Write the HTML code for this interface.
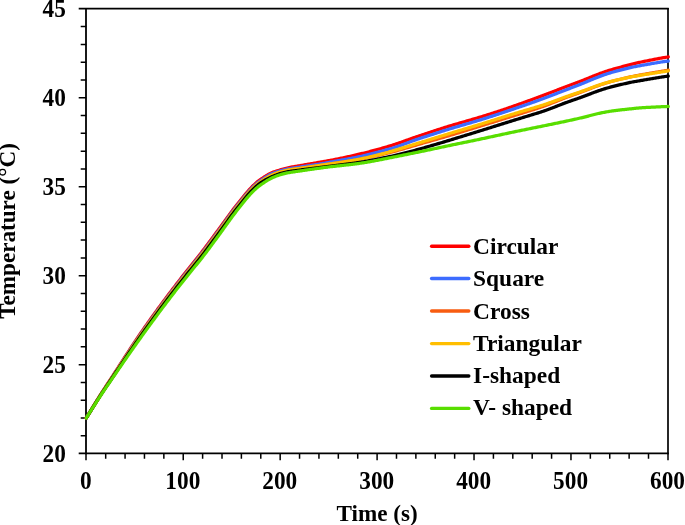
<!DOCTYPE html>
<html><head><meta charset="utf-8"><title>Temperature vs Time</title>
<style>
html,body{margin:0;padding:0;background:#fff;}
body{width:685px;height:525px;overflow:hidden;font-family:"Liberation Serif",serif;}
</style></head><body>
<svg width="685" height="525" viewBox="0 0 685 525" style="display:block;will-change:transform">
<rect x="0" y="0" width="685" height="525" fill="#fff"/>
<g stroke="#000" stroke-width="1.5" fill="none" stroke-linecap="butt">
<path d="M78.7,8.65H668.75" stroke-width="1.55"/>
<path d="M78.7,453.3H668.75" stroke-width="1.8"/>
<path d="M86.0,7.9V454.2" stroke-width="1.8"/>
<path d="M668.0,7.9V454.2" stroke-width="1.7"/>
<path d="M80.7,435.81H86.3 M80.7,418.02H86.3 M80.7,400.22H86.3 M80.7,382.43H86.3 M78.7,364.64H86.3 M80.7,346.85H86.3 M80.7,329.06H86.3 M80.7,311.26H86.3 M80.7,293.47H86.3 M78.7,275.68H86.3 M80.7,257.89H86.3 M80.7,240.10H86.3 M80.7,222.30H86.3 M80.7,204.51H86.3 M78.7,186.72H86.3 M80.7,168.93H86.3 M80.7,151.14H86.3 M80.7,133.34H86.3 M80.7,115.55H86.3 M78.7,97.76H86.3 M80.7,79.97H86.3 M80.7,62.18H86.3 M80.7,44.38H86.3 M80.7,26.59H86.3 M86.00,453.6V460.2 M105.69,453.6V458.8 M125.07,453.6V458.8 M144.46,453.6V458.8 M163.85,453.6V458.8 M183.23,453.6V460.2 M202.62,453.6V458.8 M222.01,453.6V458.8 M241.39,453.6V458.8 M260.78,453.6V458.8 M280.17,453.6V460.2 M299.55,453.6V458.8 M318.94,453.6V458.8 M338.33,453.6V458.8 M357.71,453.6V458.8 M377.10,453.6V460.2 M396.49,453.6V458.8 M415.87,453.6V458.8 M435.26,453.6V458.8 M454.65,453.6V458.8 M474.03,453.6V460.2 M493.42,453.6V458.8 M512.81,453.6V458.8 M532.19,453.6V458.8 M551.58,453.6V458.8 M570.97,453.6V460.2 M590.35,453.6V458.8 M609.74,453.6V458.8 M629.13,453.6V458.8 M648.51,453.6V458.8 M668.00,453.6V460.2"/>
</g>
<g fill="none" stroke-width="3.25" stroke-linejoin="round" stroke-linecap="round">
<path stroke="#ff0000" d="M86.3,418.00 L87.3,416.34 L88.3,414.68 L89.3,413.03 L90.3,411.38 L91.3,409.73 L92.3,408.09 L93.3,406.45 L94.3,404.81 L95.3,403.18 L96.3,401.56 L97.3,399.94 L98.3,398.32 L99.3,396.70 L100.3,395.09 L101.3,393.50 L102.3,391.92 L103.3,390.36 L104.3,388.81 L105.3,387.28 L106.3,385.76 L107.3,384.25 L108.3,382.73 L109.3,381.21 L110.3,379.69 L111.3,378.15 L112.3,376.60 L113.3,375.05 L114.3,373.50 L115.3,371.94 L116.3,370.39 L117.3,368.84 L118.3,367.28 L119.3,365.73 L120.3,364.18 L121.3,362.63 L122.3,361.08 L123.3,359.53 L124.3,357.98 L125.3,356.43 L126.3,354.89 L127.3,353.34 L128.3,351.80 L129.3,350.26 L130.3,348.73 L131.3,347.20 L132.3,345.68 L133.3,344.16 L134.3,342.64 L135.3,341.14 L136.3,339.64 L137.3,338.15 L138.3,336.66 L139.3,335.18 L140.3,333.72 L141.3,332.26 L142.3,330.81 L143.3,329.36 L144.3,327.93 L145.3,326.51 L146.3,325.09 L147.3,323.67 L148.3,322.25 L149.3,320.84 L150.3,319.44 L151.3,318.03 L152.3,316.63 L153.3,315.24 L154.3,313.85 L155.3,312.46 L156.3,311.08 L157.3,309.70 L158.3,308.33 L159.3,306.96 L160.3,305.60 L161.3,304.25 L162.3,302.89 L163.3,301.54 L164.3,300.20 L165.3,298.85 L166.3,297.51 L167.3,296.18 L168.3,294.85 L169.3,293.52 L170.3,292.19 L171.3,290.87 L172.3,289.55 L173.3,288.24 L174.3,286.93 L175.3,285.62 L176.3,284.31 L177.3,283.01 L178.3,281.72 L179.3,280.43 L180.3,279.14 L181.3,277.85 L182.3,276.57 L183.3,275.29 L184.3,274.01 L185.3,272.74 L186.3,271.47 L187.3,270.21 L188.3,268.95 L189.3,267.69 L190.3,266.43 L191.3,265.18 L192.3,263.93 L193.3,262.68 L194.3,261.43 L195.3,260.18 L196.3,258.93 L197.3,257.68 L198.3,256.43 L199.3,255.18 L200.3,253.91 L201.3,252.64 L202.3,251.36 L203.3,250.07 L204.3,248.76 L205.3,247.43 L206.3,246.10 L207.3,244.76 L208.3,243.41 L209.3,242.06 L210.3,240.70 L211.3,239.35 L212.3,238.00 L213.3,236.64 L214.3,235.29 L215.3,233.94 L216.3,232.59 L217.3,231.24 L218.3,229.88 L219.3,228.51 L220.3,227.14 L221.3,225.76 L222.3,224.39 L223.3,223.01 L224.3,221.63 L225.3,220.25 L226.3,218.87 L227.3,217.48 L228.3,216.10 L229.3,214.72 L230.3,213.36 L231.3,212.01 L232.3,210.67 L233.3,209.35 L234.3,208.05 L235.3,206.77 L236.3,205.50 L237.3,204.25 L238.3,203.00 L239.3,201.76 L240.3,200.53 L241.3,199.29 L242.3,198.05 L243.3,196.80 L244.3,195.56 L245.3,194.33 L246.3,193.12 L247.3,191.94 L248.3,190.79 L249.3,189.67 L250.3,188.59 L251.3,187.53 L252.3,186.51 L253.3,185.51 L254.3,184.55 L255.3,183.61 L256.3,182.71 L257.3,181.86 L258.3,181.05 L259.3,180.30 L260.3,179.59 L261.3,178.91 L262.3,178.24 L263.3,177.59 L264.3,176.93 L265.3,176.29 L266.3,175.66 L267.3,175.06 L268.3,174.48 L269.3,173.92 L270.3,173.40 L271.3,172.92 L272.3,172.50 L273.3,172.12 L274.3,171.76 L275.3,171.44 L276.3,171.12 L277.3,170.82 L278.3,170.52 L279.3,170.22 L280.3,169.90 L281.3,169.59 L282.3,169.30 L283.3,169.01 L284.3,168.73 L285.3,168.46 L286.3,168.21 L287.3,167.97 L288.3,167.75 L289.3,167.54 L290.3,167.35 L291.3,167.16 L292.3,166.97 L293.3,166.80 L294.3,166.62 L295.3,166.45 L296.3,166.27 L297.3,166.10 L298.3,165.93 L299.3,165.75 L300.3,165.58 L301.3,165.41 L302.3,165.24 L303.3,165.06 L304.3,164.89 L305.3,164.72 L306.3,164.55 L307.3,164.38 L308.3,164.20 L309.3,164.03 L310.3,163.86 L311.3,163.69 L312.3,163.51 L313.3,163.34 L314.3,163.17 L315.3,162.99 L316.3,162.82 L317.3,162.65 L318.3,162.47 L319.3,162.30 L320.3,162.12 L321.3,161.95 L322.3,161.77 L323.3,161.59 L324.3,161.42 L325.3,161.24 L326.3,161.06 L327.3,160.88 L328.3,160.71 L329.3,160.53 L330.3,160.35 L331.3,160.16 L332.3,159.98 L333.3,159.79 L334.3,159.60 L335.3,159.41 L336.3,159.21 L337.3,159.01 L338.3,158.81 L339.3,158.61 L340.3,158.40 L341.3,158.20 L342.3,157.99 L343.3,157.77 L344.3,157.56 L345.3,157.35 L346.3,157.13 L347.3,156.91 L348.3,156.69 L349.3,156.47 L350.3,156.24 L351.3,156.02 L352.3,155.79 L353.3,155.56 L354.3,155.33 L355.3,155.10 L356.3,154.87 L357.3,154.63 L358.3,154.40 L359.3,154.17 L360.3,153.93 L361.3,153.69 L362.3,153.45 L363.3,153.21 L364.3,152.96 L365.3,152.71 L366.3,152.46 L367.3,152.21 L368.3,151.96 L369.3,151.70 L370.3,151.44 L371.3,151.18 L372.3,150.92 L373.3,150.65 L374.3,150.38 L375.3,150.11 L376.3,149.84 L377.3,149.56 L378.3,149.29 L379.3,149.01 L380.3,148.73 L381.3,148.45 L382.3,148.16 L383.3,147.87 L384.3,147.58 L385.3,147.29 L386.3,147.00 L387.3,146.71 L388.3,146.41 L389.3,146.11 L390.3,145.81 L391.3,145.50 L392.3,145.19 L393.3,144.87 L394.3,144.55 L395.3,144.22 L396.3,143.89 L397.3,143.55 L398.3,143.21 L399.3,142.87 L400.3,142.52 L401.3,142.17 L402.3,141.82 L403.3,141.46 L404.3,141.11 L405.3,140.75 L406.3,140.39 L407.3,140.03 L408.3,139.67 L409.3,139.31 L410.3,138.96 L411.3,138.60 L412.3,138.25 L413.3,137.89 L414.3,137.54 L415.3,137.19 L416.3,136.85 L417.3,136.50 L418.3,136.17 L419.3,135.83 L420.3,135.50 L421.3,135.17 L422.3,134.84 L423.3,134.51 L424.3,134.18 L425.3,133.85 L426.3,133.52 L427.3,133.19 L428.3,132.86 L429.3,132.53 L430.3,132.20 L431.3,131.88 L432.3,131.55 L433.3,131.22 L434.3,130.89 L435.3,130.57 L436.3,130.24 L437.3,129.92 L438.3,129.59 L439.3,129.27 L440.3,128.95 L441.3,128.63 L442.3,128.31 L443.3,127.99 L444.3,127.67 L445.3,127.36 L446.3,127.05 L447.3,126.73 L448.3,126.42 L449.3,126.11 L450.3,125.81 L451.3,125.50 L452.3,125.20 L453.3,124.90 L454.3,124.61 L455.3,124.31 L456.3,124.02 L457.3,123.73 L458.3,123.44 L459.3,123.15 L460.3,122.86 L461.3,122.58 L462.3,122.29 L463.3,122.01 L464.3,121.72 L465.3,121.44 L466.3,121.15 L467.3,120.87 L468.3,120.58 L469.3,120.30 L470.3,120.01 L471.3,119.72 L472.3,119.43 L473.3,119.14 L474.3,118.85 L475.3,118.56 L476.3,118.26 L477.3,117.97 L478.3,117.67 L479.3,117.36 L480.3,117.06 L481.3,116.75 L482.3,116.44 L483.3,116.14 L484.3,115.83 L485.3,115.52 L486.3,115.20 L487.3,114.89 L488.3,114.58 L489.3,114.26 L490.3,113.94 L491.3,113.63 L492.3,113.31 L493.3,112.99 L494.3,112.66 L495.3,112.34 L496.3,112.01 L497.3,111.69 L498.3,111.36 L499.3,111.03 L500.3,110.70 L501.3,110.37 L502.3,110.03 L503.3,109.70 L504.3,109.36 L505.3,109.02 L506.3,108.68 L507.3,108.33 L508.3,107.99 L509.3,107.64 L510.3,107.30 L511.3,106.95 L512.3,106.60 L513.3,106.25 L514.3,105.89 L515.3,105.54 L516.3,105.19 L517.3,104.83 L518.3,104.48 L519.3,104.12 L520.3,103.76 L521.3,103.41 L522.3,103.05 L523.3,102.69 L524.3,102.33 L525.3,101.97 L526.3,101.61 L527.3,101.25 L528.3,100.88 L529.3,100.52 L530.3,100.16 L531.3,99.79 L532.3,99.43 L533.3,99.06 L534.3,98.70 L535.3,98.33 L536.3,97.96 L537.3,97.60 L538.3,97.23 L539.3,96.86 L540.3,96.49 L541.3,96.12 L542.3,95.75 L543.3,95.37 L544.3,94.99 L545.3,94.62 L546.3,94.24 L547.3,93.86 L548.3,93.47 L549.3,93.09 L550.3,92.71 L551.3,92.32 L552.3,91.94 L553.3,91.55 L554.3,91.17 L555.3,90.78 L556.3,90.40 L557.3,90.01 L558.3,89.63 L559.3,89.24 L560.3,88.86 L561.3,88.48 L562.3,88.09 L563.3,87.71 L564.3,87.33 L565.3,86.95 L566.3,86.58 L567.3,86.20 L568.3,85.83 L569.3,85.46 L570.3,85.09 L571.3,84.72 L572.3,84.35 L573.3,83.98 L574.3,83.61 L575.3,83.23 L576.3,82.86 L577.3,82.48 L578.3,82.10 L579.3,81.72 L580.3,81.34 L581.3,80.95 L582.3,80.56 L583.3,80.17 L584.3,79.78 L585.3,79.38 L586.3,78.97 L587.3,78.57 L588.3,78.16 L589.3,77.75 L590.3,77.34 L591.3,76.93 L592.3,76.52 L593.3,76.12 L594.3,75.71 L595.3,75.31 L596.3,74.92 L597.3,74.53 L598.3,74.14 L599.3,73.76 L600.3,73.39 L601.3,73.02 L602.3,72.67 L603.3,72.32 L604.3,71.97 L605.3,71.64 L606.3,71.31 L607.3,70.98 L608.3,70.67 L609.3,70.35 L610.3,70.05 L611.3,69.74 L612.3,69.45 L613.3,69.15 L614.3,68.87 L615.3,68.58 L616.3,68.30 L617.3,68.02 L618.3,67.75 L619.3,67.48 L620.3,67.21 L621.3,66.95 L622.3,66.69 L623.3,66.42 L624.3,66.16 L625.3,65.91 L626.3,65.65 L627.3,65.39 L628.3,65.14 L629.3,64.88 L630.3,64.62 L631.3,64.37 L632.3,64.12 L633.3,63.87 L634.3,63.63 L635.3,63.38 L636.3,63.15 L637.3,62.91 L638.3,62.68 L639.3,62.46 L640.3,62.23 L641.3,62.02 L642.3,61.80 L643.3,61.59 L644.3,61.39 L645.3,61.19 L646.3,60.99 L647.3,60.79 L648.3,60.59 L649.3,60.39 L650.3,60.20 L651.3,60.00 L652.3,59.80 L653.3,59.60 L654.3,59.41 L655.3,59.21 L656.3,59.01 L657.3,58.82 L658.3,58.63 L659.3,58.43 L660.3,58.24 L661.3,58.06 L662.3,57.88 L663.3,57.71 L664.3,57.55 L665.3,57.40 L666.3,57.25 L667.3,57.10 L668.3,56.99"/>
<path stroke="#3c6cff" d="M86.3,418.00 L87.3,416.35 L88.3,414.71 L89.3,413.07 L90.3,411.43 L91.3,409.80 L92.3,408.17 L93.3,406.55 L94.3,404.93 L95.3,403.31 L96.3,401.70 L97.3,400.09 L98.3,398.49 L99.3,396.89 L100.3,395.30 L101.3,393.72 L102.3,392.15 L103.3,390.61 L104.3,389.08 L105.3,387.57 L106.3,386.06 L107.3,384.57 L108.3,383.07 L109.3,381.56 L110.3,380.05 L111.3,378.53 L112.3,377.00 L113.3,375.47 L114.3,373.93 L115.3,372.40 L116.3,370.87 L117.3,369.33 L118.3,367.80 L119.3,366.27 L120.3,364.74 L121.3,363.21 L122.3,361.68 L123.3,360.15 L124.3,358.63 L125.3,357.11 L126.3,355.58 L127.3,354.06 L128.3,352.54 L129.3,351.03 L130.3,349.52 L131.3,348.01 L132.3,346.51 L133.3,345.01 L134.3,343.52 L135.3,342.03 L136.3,340.55 L137.3,339.08 L138.3,337.61 L139.3,336.15 L140.3,334.70 L141.3,333.25 L142.3,331.82 L143.3,330.39 L144.3,328.97 L145.3,327.55 L146.3,326.14 L147.3,324.74 L148.3,323.33 L149.3,321.93 L150.3,320.53 L151.3,319.13 L152.3,317.74 L153.3,316.35 L154.3,314.96 L155.3,313.58 L156.3,312.20 L157.3,310.83 L158.3,309.47 L159.3,308.10 L160.3,306.75 L161.3,305.40 L162.3,304.05 L163.3,302.70 L164.3,301.36 L165.3,300.02 L166.3,298.69 L167.3,297.35 L168.3,296.03 L169.3,294.70 L170.3,293.38 L171.3,292.06 L172.3,290.75 L173.3,289.44 L174.3,288.13 L175.3,286.83 L176.3,285.53 L177.3,284.23 L178.3,282.94 L179.3,281.65 L180.3,280.37 L181.3,279.09 L182.3,277.81 L183.3,276.54 L184.3,275.26 L185.3,274.00 L186.3,272.73 L187.3,271.47 L188.3,270.21 L189.3,268.96 L190.3,267.71 L191.3,266.46 L192.3,265.21 L193.3,263.97 L194.3,262.72 L195.3,261.48 L196.3,260.24 L197.3,258.99 L198.3,257.74 L199.3,256.49 L200.3,255.24 L201.3,253.97 L202.3,252.69 L203.3,251.40 L204.3,250.09 L205.3,248.77 L206.3,247.44 L207.3,246.10 L208.3,244.76 L209.3,243.41 L210.3,242.05 L211.3,240.70 L212.3,239.35 L213.3,237.99 L214.3,236.64 L215.3,235.29 L216.3,233.94 L217.3,232.58 L218.3,231.22 L219.3,229.86 L220.3,228.48 L221.3,227.11 L222.3,225.73 L223.3,224.35 L224.3,222.97 L225.3,221.59 L226.3,220.20 L227.3,218.81 L228.3,217.43 L229.3,216.04 L230.3,214.68 L231.3,213.32 L232.3,211.98 L233.3,210.66 L234.3,209.36 L235.3,208.07 L236.3,206.80 L237.3,205.54 L238.3,204.29 L239.3,203.04 L240.3,201.80 L241.3,200.56 L242.3,199.31 L243.3,198.06 L244.3,196.82 L245.3,195.58 L246.3,194.37 L247.3,193.19 L248.3,192.04 L249.3,190.92 L250.3,189.83 L251.3,188.77 L252.3,187.75 L253.3,186.75 L254.3,185.78 L255.3,184.84 L256.3,183.94 L257.3,183.08 L258.3,182.27 L259.3,181.52 L260.3,180.80 L261.3,180.12 L262.3,179.45 L263.3,178.78 L264.3,178.12 L265.3,177.46 L266.3,176.82 L267.3,176.19 L268.3,175.60 L269.3,175.03 L270.3,174.49 L271.3,174.01 L272.3,173.57 L273.3,173.17 L274.3,172.80 L275.3,172.45 L276.3,172.12 L277.3,171.81 L278.3,171.50 L279.3,171.21 L280.3,170.91 L281.3,170.62 L282.3,170.34 L283.3,170.07 L284.3,169.82 L285.3,169.57 L286.3,169.34 L287.3,169.12 L288.3,168.92 L289.3,168.74 L290.3,168.56 L291.3,168.39 L292.3,168.22 L293.3,168.07 L294.3,167.91 L295.3,167.75 L296.3,167.60 L297.3,167.44 L298.3,167.29 L299.3,167.14 L300.3,166.99 L301.3,166.84 L302.3,166.69 L303.3,166.54 L304.3,166.39 L305.3,166.24 L306.3,166.09 L307.3,165.94 L308.3,165.79 L309.3,165.64 L310.3,165.48 L311.3,165.33 L312.3,165.18 L313.3,165.03 L314.3,164.87 L315.3,164.72 L316.3,164.56 L317.3,164.40 L318.3,164.24 L319.3,164.08 L320.3,163.91 L321.3,163.75 L322.3,163.58 L323.3,163.41 L324.3,163.24 L325.3,163.06 L326.3,162.88 L327.3,162.70 L328.3,162.52 L329.3,162.33 L330.3,162.14 L331.3,161.95 L332.3,161.77 L333.3,161.58 L334.3,161.40 L335.3,161.21 L336.3,161.03 L337.3,160.85 L338.3,160.67 L339.3,160.49 L340.3,160.32 L341.3,160.14 L342.3,159.96 L343.3,159.78 L344.3,159.60 L345.3,159.42 L346.3,159.24 L347.3,159.05 L348.3,158.87 L349.3,158.68 L350.3,158.50 L351.3,158.31 L352.3,158.12 L353.3,157.92 L354.3,157.73 L355.3,157.53 L356.3,157.33 L357.3,157.12 L358.3,156.91 L359.3,156.70 L360.3,156.48 L361.3,156.26 L362.3,156.04 L363.3,155.81 L364.3,155.58 L365.3,155.35 L366.3,155.11 L367.3,154.87 L368.3,154.63 L369.3,154.38 L370.3,154.13 L371.3,153.88 L372.3,153.63 L373.3,153.37 L374.3,153.11 L375.3,152.86 L376.3,152.59 L377.3,152.33 L378.3,152.07 L379.3,151.80 L380.3,151.53 L381.3,151.26 L382.3,150.99 L383.3,150.72 L384.3,150.45 L385.3,150.18 L386.3,149.91 L387.3,149.64 L388.3,149.36 L389.3,149.09 L390.3,148.82 L391.3,148.54 L392.3,148.24 L393.3,147.94 L394.3,147.63 L395.3,147.30 L396.3,146.97 L397.3,146.63 L398.3,146.29 L399.3,145.93 L400.3,145.58 L401.3,145.21 L402.3,144.85 L403.3,144.47 L404.3,144.10 L405.3,143.72 L406.3,143.35 L407.3,142.97 L408.3,142.59 L409.3,142.21 L410.3,141.84 L411.3,141.46 L412.3,141.09 L413.3,140.72 L414.3,140.36 L415.3,140.00 L416.3,139.65 L417.3,139.30 L418.3,138.96 L419.3,138.63 L420.3,138.30 L421.3,137.98 L422.3,137.66 L423.3,137.33 L424.3,137.01 L425.3,136.69 L426.3,136.36 L427.3,136.04 L428.3,135.72 L429.3,135.39 L430.3,135.07 L431.3,134.75 L432.3,134.42 L433.3,134.10 L434.3,133.78 L435.3,133.46 L436.3,133.14 L437.3,132.82 L438.3,132.50 L439.3,132.18 L440.3,131.87 L441.3,131.55 L442.3,131.23 L443.3,130.92 L444.3,130.61 L445.3,130.30 L446.3,129.99 L447.3,129.68 L448.3,129.37 L449.3,129.06 L450.3,128.76 L451.3,128.46 L452.3,128.16 L453.3,127.86 L454.3,127.56 L455.3,127.26 L456.3,126.97 L457.3,126.68 L458.3,126.38 L459.3,126.09 L460.3,125.80 L461.3,125.51 L462.3,125.22 L463.3,124.93 L464.3,124.64 L465.3,124.35 L466.3,124.06 L467.3,123.77 L468.3,123.48 L469.3,123.19 L470.3,122.90 L471.3,122.61 L472.3,122.31 L473.3,122.02 L474.3,121.72 L475.3,121.43 L476.3,121.13 L477.3,120.82 L478.3,120.52 L479.3,120.22 L480.3,119.91 L481.3,119.60 L482.3,119.29 L483.3,118.97 L484.3,118.66 L485.3,118.34 L486.3,118.02 L487.3,117.70 L488.3,117.38 L489.3,117.06 L490.3,116.74 L491.3,116.41 L492.3,116.09 L493.3,115.76 L494.3,115.43 L495.3,115.10 L496.3,114.78 L497.3,114.44 L498.3,114.11 L499.3,113.78 L500.3,113.45 L501.3,113.12 L502.3,112.78 L503.3,112.45 L504.3,112.11 L505.3,111.78 L506.3,111.44 L507.3,111.11 L508.3,110.77 L509.3,110.44 L510.3,110.10 L511.3,109.76 L512.3,109.43 L513.3,109.09 L514.3,108.75 L515.3,108.42 L516.3,108.08 L517.3,107.74 L518.3,107.40 L519.3,107.06 L520.3,106.72 L521.3,106.38 L522.3,106.04 L523.3,105.70 L524.3,105.36 L525.3,105.01 L526.3,104.67 L527.3,104.32 L528.3,103.97 L529.3,103.62 L530.3,103.27 L531.3,102.92 L532.3,102.57 L533.3,102.22 L534.3,101.86 L535.3,101.50 L536.3,101.14 L537.3,100.78 L538.3,100.42 L539.3,100.06 L540.3,99.69 L541.3,99.32 L542.3,98.95 L543.3,98.58 L544.3,98.21 L545.3,97.83 L546.3,97.45 L547.3,97.08 L548.3,96.70 L549.3,96.32 L550.3,95.93 L551.3,95.55 L552.3,95.17 L553.3,94.78 L554.3,94.40 L555.3,94.01 L556.3,93.63 L557.3,93.24 L558.3,92.85 L559.3,92.47 L560.3,92.08 L561.3,91.69 L562.3,91.31 L563.3,90.92 L564.3,90.53 L565.3,90.15 L566.3,89.77 L567.3,89.38 L568.3,89.00 L569.3,88.62 L570.3,88.24 L571.3,87.85 L572.3,87.47 L573.3,87.09 L574.3,86.71 L575.3,86.32 L576.3,85.93 L577.3,85.55 L578.3,85.16 L579.3,84.76 L580.3,84.37 L581.3,83.97 L582.3,83.57 L583.3,83.17 L584.3,82.76 L585.3,82.35 L586.3,81.94 L587.3,81.52 L588.3,81.10 L589.3,80.69 L590.3,80.27 L591.3,79.85 L592.3,79.43 L593.3,79.02 L594.3,78.60 L595.3,78.20 L596.3,77.79 L597.3,77.39 L598.3,77.00 L599.3,76.62 L600.3,76.24 L601.3,75.87 L602.3,75.50 L603.3,75.15 L604.3,74.80 L605.3,74.46 L606.3,74.13 L607.3,73.80 L608.3,73.48 L609.3,73.17 L610.3,72.86 L611.3,72.56 L612.3,72.26 L613.3,71.97 L614.3,71.69 L615.3,71.41 L616.3,71.13 L617.3,70.86 L618.3,70.59 L619.3,70.33 L620.3,70.07 L621.3,69.82 L622.3,69.56 L623.3,69.31 L624.3,69.07 L625.3,68.82 L626.3,68.58 L627.3,68.34 L628.3,68.10 L629.3,67.87 L630.3,67.63 L631.3,67.40 L632.3,67.19 L633.3,66.98 L634.3,66.78 L635.3,66.59 L636.3,66.40 L637.3,66.21 L638.3,66.02 L639.3,65.83 L640.3,65.64 L641.3,65.45 L642.3,65.27 L643.3,65.08 L644.3,64.90 L645.3,64.73 L646.3,64.55 L647.3,64.38 L648.3,64.20 L649.3,64.03 L650.3,63.85 L651.3,63.68 L652.3,63.51 L653.3,63.33 L654.3,63.16 L655.3,62.99 L656.3,62.82 L657.3,62.65 L658.3,62.48 L659.3,62.31 L660.3,62.15 L661.3,62.00 L662.3,61.85 L663.3,61.70 L664.3,61.56 L665.3,61.43 L666.3,61.31 L667.3,61.18 L668.3,61.09"/>
<path stroke="#f85c10" d="M86.3,418.00 L87.3,416.36 L88.3,414.73 L89.3,413.10 L90.3,411.48 L91.3,409.86 L92.3,408.25 L93.3,406.64 L94.3,405.03 L95.3,403.43 L96.3,401.83 L97.3,400.24 L98.3,398.65 L99.3,397.06 L100.3,395.48 L101.3,393.92 L102.3,392.37 L103.3,390.84 L104.3,389.33 L105.3,387.83 L106.3,386.34 L107.3,384.85 L108.3,383.37 L109.3,381.88 L110.3,380.39 L111.3,378.88 L112.3,377.37 L113.3,375.85 L114.3,374.33 L115.3,372.81 L116.3,371.30 L117.3,369.78 L118.3,368.27 L119.3,366.76 L120.3,365.25 L121.3,363.74 L122.3,362.23 L123.3,360.72 L124.3,359.22 L125.3,357.72 L126.3,356.22 L127.3,354.72 L128.3,353.22 L129.3,351.72 L130.3,350.23 L131.3,348.75 L132.3,347.26 L133.3,345.78 L134.3,344.31 L135.3,342.84 L136.3,341.38 L137.3,339.92 L138.3,338.47 L139.3,337.03 L140.3,335.59 L141.3,334.16 L142.3,332.74 L143.3,331.32 L144.3,329.91 L145.3,328.51 L146.3,327.11 L147.3,325.71 L148.3,324.31 L149.3,322.91 L150.3,321.52 L151.3,320.13 L152.3,318.74 L153.3,317.36 L154.3,315.98 L155.3,314.60 L156.3,313.23 L157.3,311.86 L158.3,310.50 L159.3,309.14 L160.3,307.79 L161.3,306.44 L162.3,305.10 L163.3,303.75 L164.3,302.42 L165.3,301.08 L166.3,299.75 L167.3,298.42 L168.3,297.10 L169.3,295.78 L170.3,294.46 L171.3,293.15 L172.3,291.84 L173.3,290.53 L174.3,289.23 L175.3,287.93 L176.3,286.64 L177.3,285.34 L178.3,284.06 L179.3,282.77 L180.3,281.49 L181.3,280.21 L182.3,278.94 L183.3,277.67 L184.3,276.40 L185.3,275.14 L186.3,273.88 L187.3,272.62 L188.3,271.37 L189.3,270.12 L190.3,268.87 L191.3,267.62 L192.3,266.38 L193.3,265.14 L194.3,263.90 L195.3,262.66 L196.3,261.42 L197.3,260.18 L198.3,258.94 L199.3,257.69 L200.3,256.44 L201.3,255.17 L202.3,253.90 L203.3,252.61 L204.3,251.31 L205.3,249.99 L206.3,248.66 L207.3,247.32 L208.3,245.98 L209.3,244.63 L210.3,243.27 L211.3,241.92 L212.3,240.57 L213.3,239.22 L214.3,237.87 L215.3,236.52 L216.3,235.16 L217.3,233.81 L218.3,232.44 L219.3,231.07 L220.3,229.70 L221.3,228.32 L222.3,226.94 L223.3,225.56 L224.3,224.18 L225.3,222.79 L226.3,221.40 L227.3,220.01 L228.3,218.62 L229.3,217.24 L230.3,215.87 L231.3,214.51 L232.3,213.17 L233.3,211.84 L234.3,210.54 L235.3,209.25 L236.3,207.97 L237.3,206.71 L238.3,205.45 L239.3,204.21 L240.3,202.96 L241.3,201.71 L242.3,200.46 L243.3,199.21 L244.3,197.96 L245.3,196.72 L246.3,195.50 L247.3,194.31 L248.3,193.16 L249.3,192.03 L250.3,190.94 L251.3,189.88 L252.3,188.85 L253.3,187.85 L254.3,186.87 L255.3,185.93 L256.3,185.03 L257.3,184.17 L258.3,183.36 L259.3,182.61 L260.3,181.90 L261.3,181.22 L262.3,180.56 L263.3,179.91 L264.3,179.28 L265.3,178.66 L266.3,178.07 L267.3,177.50 L268.3,176.94 L269.3,176.41 L270.3,175.90 L271.3,175.41 L272.3,174.95 L273.3,174.51 L274.3,174.09 L275.3,173.70 L276.3,173.32 L277.3,172.96 L278.3,172.62 L279.3,172.31 L280.3,172.01 L281.3,171.73 L282.3,171.46 L283.3,171.21 L284.3,170.96 L285.3,170.73 L286.3,170.51 L287.3,170.31 L288.3,170.12 L289.3,169.95 L290.3,169.78 L291.3,169.63 L292.3,169.48 L293.3,169.34 L294.3,169.20 L295.3,169.06 L296.3,168.92 L297.3,168.78 L298.3,168.64 L299.3,168.50 L300.3,168.35 L301.3,168.21 L302.3,168.07 L303.3,167.93 L304.3,167.79 L305.3,167.64 L306.3,167.50 L307.3,167.35 L308.3,167.21 L309.3,167.07 L310.3,166.92 L311.3,166.78 L312.3,166.63 L313.3,166.48 L314.3,166.34 L315.3,166.19 L316.3,166.04 L317.3,165.89 L318.3,165.74 L319.3,165.59 L320.3,165.44 L321.3,165.29 L322.3,165.14 L323.3,164.99 L324.3,164.83 L325.3,164.68 L326.3,164.53 L327.3,164.37 L328.3,164.22 L329.3,164.06 L330.3,163.90 L331.3,163.75 L332.3,163.59 L333.3,163.44 L334.3,163.29 L335.3,163.14 L336.3,162.99 L337.3,162.84 L338.3,162.69 L339.3,162.54 L340.3,162.39 L341.3,162.24 L342.3,162.09 L343.3,161.94 L344.3,161.79 L345.3,161.64 L346.3,161.49 L347.3,161.33 L348.3,161.18 L349.3,161.02 L350.3,160.86 L351.3,160.70 L352.3,160.54 L353.3,160.37 L354.3,160.21 L355.3,160.04 L356.3,159.86 L357.3,159.69 L358.3,159.51 L359.3,159.33 L360.3,159.14 L361.3,158.96 L362.3,158.76 L363.3,158.57 L364.3,158.37 L365.3,158.17 L366.3,157.97 L367.3,157.76 L368.3,157.55 L369.3,157.34 L370.3,157.12 L371.3,156.91 L372.3,156.69 L373.3,156.47 L374.3,156.24 L375.3,156.02 L376.3,155.79 L377.3,155.56 L378.3,155.33 L379.3,155.09 L380.3,154.86 L381.3,154.62 L382.3,154.38 L383.3,154.14 L384.3,153.90 L385.3,153.66 L386.3,153.41 L387.3,153.17 L388.3,152.92 L389.3,152.67 L390.3,152.43 L391.3,152.17 L392.3,151.92 L393.3,151.66 L394.3,151.39 L395.3,151.12 L396.3,150.85 L397.3,150.58 L398.3,150.30 L399.3,150.02 L400.3,149.74 L401.3,149.45 L402.3,149.17 L403.3,148.88 L404.3,148.59 L405.3,148.30 L406.3,148.01 L407.3,147.71 L408.3,147.42 L409.3,147.12 L410.3,146.83 L411.3,146.53 L412.3,146.24 L413.3,145.95 L414.3,145.65 L415.3,145.36 L416.3,145.07 L417.3,144.78 L418.3,144.49 L419.3,144.20 L420.3,143.91 L421.3,143.63 L422.3,143.35 L423.3,143.06 L424.3,142.78 L425.3,142.50 L426.3,142.21 L427.3,141.93 L428.3,141.65 L429.3,141.36 L430.3,141.08 L431.3,140.80 L432.3,140.52 L433.3,140.23 L434.3,139.95 L435.3,139.66 L436.3,139.38 L437.3,139.09 L438.3,138.81 L439.3,138.52 L440.3,138.24 L441.3,137.95 L442.3,137.66 L443.3,137.37 L444.3,137.08 L445.3,136.79 L446.3,136.49 L447.3,136.20 L448.3,135.91 L449.3,135.61 L450.3,135.31 L451.3,135.01 L452.3,134.71 L453.3,134.41 L454.3,134.11 L455.3,133.81 L456.3,133.50 L457.3,133.20 L458.3,132.89 L459.3,132.59 L460.3,132.28 L461.3,131.97 L462.3,131.67 L463.3,131.36 L464.3,131.05 L465.3,130.74 L466.3,130.43 L467.3,130.13 L468.3,129.82 L469.3,129.51 L470.3,129.20 L471.3,128.89 L472.3,128.58 L473.3,128.27 L474.3,127.96 L475.3,127.65 L476.3,127.34 L477.3,127.03 L478.3,126.72 L479.3,126.42 L480.3,126.11 L481.3,125.80 L482.3,125.49 L483.3,125.18 L484.3,124.87 L485.3,124.56 L486.3,124.25 L487.3,123.94 L488.3,123.63 L489.3,123.32 L490.3,123.01 L491.3,122.70 L492.3,122.39 L493.3,122.08 L494.3,121.77 L495.3,121.46 L496.3,121.14 L497.3,120.83 L498.3,120.52 L499.3,120.21 L500.3,119.90 L501.3,119.59 L502.3,119.28 L503.3,118.97 L504.3,118.66 L505.3,118.35 L506.3,118.04 L507.3,117.73 L508.3,117.42 L509.3,117.12 L510.3,116.81 L511.3,116.50 L512.3,116.19 L513.3,115.89 L514.3,115.58 L515.3,115.27 L516.3,114.96 L517.3,114.66 L518.3,114.35 L519.3,114.04 L520.3,113.73 L521.3,113.42 L522.3,113.11 L523.3,112.80 L524.3,112.49 L525.3,112.18 L526.3,111.87 L527.3,111.55 L528.3,111.24 L529.3,110.93 L530.3,110.61 L531.3,110.29 L532.3,109.98 L533.3,109.66 L534.3,109.34 L535.3,109.02 L536.3,108.70 L537.3,108.38 L538.3,108.05 L539.3,107.73 L540.3,107.40 L541.3,107.07 L542.3,106.73 L543.3,106.38 L544.3,106.02 L545.3,105.65 L546.3,105.28 L547.3,104.91 L548.3,104.53 L549.3,104.14 L550.3,103.75 L551.3,103.36 L552.3,102.96 L553.3,102.57 L554.3,102.17 L555.3,101.77 L556.3,101.37 L557.3,100.96 L558.3,100.56 L559.3,100.16 L560.3,99.76 L561.3,99.37 L562.3,98.98 L563.3,98.59 L564.3,98.20 L565.3,97.82 L566.3,97.44 L567.3,97.07 L568.3,96.71 L569.3,96.35 L570.3,96.00 L571.3,95.64 L572.3,95.29 L573.3,94.94 L574.3,94.59 L575.3,94.23 L576.3,93.88 L577.3,93.52 L578.3,93.16 L579.3,92.80 L580.3,92.43 L581.3,92.06 L582.3,91.69 L583.3,91.32 L584.3,90.94 L585.3,90.56 L586.3,90.18 L587.3,89.79 L588.3,89.40 L589.3,89.02 L590.3,88.63 L591.3,88.24 L592.3,87.85 L593.3,87.47 L594.3,87.08 L595.3,86.71 L596.3,86.33 L597.3,85.96 L598.3,85.60 L599.3,85.24 L600.3,84.90 L601.3,84.56 L602.3,84.22 L603.3,83.90 L604.3,83.58 L605.3,83.27 L606.3,82.96 L607.3,82.66 L608.3,82.37 L609.3,82.08 L610.3,81.80 L611.3,81.52 L612.3,81.25 L613.3,80.99 L614.3,80.73 L615.3,80.47 L616.3,80.21 L617.3,79.96 L618.3,79.72 L619.3,79.48 L620.3,79.23 L621.3,79.00 L622.3,78.76 L623.3,78.53 L624.3,78.30 L625.3,78.07 L626.3,77.84 L627.3,77.61 L628.3,77.39 L629.3,77.16 L630.3,76.93 L631.3,76.71 L632.3,76.50 L633.3,76.29 L634.3,76.09 L635.3,75.90 L636.3,75.70 L637.3,75.51 L638.3,75.32 L639.3,75.13 L640.3,74.94 L641.3,74.76 L642.3,74.58 L643.3,74.40 L644.3,74.23 L645.3,74.06 L646.3,73.89 L647.3,73.72 L648.3,73.55 L649.3,73.39 L650.3,73.22 L651.3,73.05 L652.3,72.88 L653.3,72.72 L654.3,72.55 L655.3,72.38 L656.3,72.21 L657.3,72.05 L658.3,71.88 L659.3,71.71 L660.3,71.55 L661.3,71.38 L662.3,71.20 L663.3,71.02 L664.3,70.84 L665.3,70.66 L666.3,70.49 L667.3,70.31 L668.3,70.19"/>
<path stroke="#ffbe00" d="M86.3,418.00 L87.3,416.36 L88.3,414.73 L89.3,413.11 L90.3,411.49 L91.3,409.87 L92.3,408.25 L93.3,406.64 L94.3,405.04 L95.3,403.44 L96.3,401.84 L97.3,400.25 L98.3,398.66 L99.3,397.08 L100.3,395.50 L101.3,393.94 L102.3,392.39 L103.3,390.86 L104.3,389.35 L105.3,387.85 L106.3,386.37 L107.3,384.88 L108.3,383.40 L109.3,381.91 L110.3,380.42 L111.3,378.92 L112.3,377.41 L113.3,375.89 L114.3,374.37 L115.3,372.85 L116.3,371.34 L117.3,369.83 L118.3,368.32 L119.3,366.81 L120.3,365.30 L121.3,363.79 L122.3,362.29 L123.3,360.78 L124.3,359.28 L125.3,357.78 L126.3,356.28 L127.3,354.78 L128.3,353.29 L129.3,351.79 L130.3,350.31 L131.3,348.82 L132.3,347.34 L133.3,345.86 L134.3,344.39 L135.3,342.92 L136.3,341.46 L137.3,340.01 L138.3,338.56 L139.3,337.12 L140.3,335.68 L141.3,334.25 L142.3,332.83 L143.3,331.42 L144.3,330.01 L145.3,328.60 L146.3,327.20 L147.3,325.80 L148.3,324.41 L149.3,323.01 L150.3,321.62 L151.3,320.23 L152.3,318.84 L153.3,317.46 L154.3,316.08 L155.3,314.70 L156.3,313.33 L157.3,311.96 L158.3,310.60 L159.3,309.25 L160.3,307.89 L161.3,306.54 L162.3,305.20 L163.3,303.86 L164.3,302.52 L165.3,301.19 L166.3,299.86 L167.3,298.53 L168.3,297.21 L169.3,295.89 L170.3,294.57 L171.3,293.26 L172.3,291.95 L173.3,290.64 L174.3,289.34 L175.3,288.04 L176.3,286.75 L177.3,285.45 L178.3,284.17 L179.3,282.88 L180.3,281.60 L181.3,280.33 L182.3,279.05 L183.3,277.78 L184.3,276.52 L185.3,275.25 L186.3,273.99 L187.3,272.74 L188.3,271.48 L189.3,270.23 L190.3,268.99 L191.3,267.74 L192.3,266.50 L193.3,265.26 L194.3,264.02 L195.3,262.78 L196.3,261.54 L197.3,260.30 L198.3,259.06 L199.3,257.81 L200.3,256.56 L201.3,255.29 L202.3,254.02 L203.3,252.73 L204.3,251.43 L205.3,250.11 L206.3,248.78 L207.3,247.44 L208.3,246.10 L209.3,244.75 L210.3,243.40 L211.3,242.04 L212.3,240.69 L213.3,239.34 L214.3,237.99 L215.3,236.63 L216.3,235.28 L217.3,233.92 L218.3,232.56 L219.3,231.19 L220.3,229.82 L221.3,228.44 L222.3,227.06 L223.3,225.68 L224.3,224.29 L225.3,222.91 L226.3,221.52 L227.3,220.13 L228.3,218.74 L229.3,217.35 L230.3,215.98 L231.3,214.62 L232.3,213.28 L233.3,211.96 L234.3,210.65 L235.3,209.36 L236.3,208.09 L237.3,206.82 L238.3,205.57 L239.3,204.32 L240.3,203.08 L241.3,201.83 L242.3,200.58 L243.3,199.33 L244.3,198.07 L245.3,196.83 L246.3,195.61 L247.3,194.42 L248.3,193.27 L249.3,192.14 L250.3,191.05 L251.3,189.98 L252.3,188.95 L253.3,187.95 L254.3,186.98 L255.3,186.04 L256.3,185.13 L257.3,184.27 L258.3,183.46 L259.3,182.71 L260.3,182.00 L261.3,181.33 L262.3,180.67 L263.3,180.01 L264.3,179.37 L265.3,178.74 L266.3,178.12 L267.3,177.53 L268.3,176.96 L269.3,176.42 L270.3,175.90 L271.3,175.41 L272.3,174.94 L273.3,174.50 L274.3,174.08 L275.3,173.68 L276.3,173.31 L277.3,172.95 L278.3,172.61 L279.3,172.30 L280.3,172.01 L281.3,171.74 L282.3,171.47 L283.3,171.22 L284.3,170.97 L285.3,170.74 L286.3,170.52 L287.3,170.32 L288.3,170.13 L289.3,169.95 L290.3,169.79 L291.3,169.63 L292.3,169.48 L293.3,169.34 L294.3,169.20 L295.3,169.06 L296.3,168.92 L297.3,168.78 L298.3,168.63 L299.3,168.49 L300.3,168.35 L301.3,168.20 L302.3,168.05 L303.3,167.91 L304.3,167.76 L305.3,167.61 L306.3,167.46 L307.3,167.32 L308.3,167.17 L309.3,167.02 L310.3,166.87 L311.3,166.72 L312.3,166.57 L313.3,166.42 L314.3,166.27 L315.3,166.12 L316.3,165.97 L317.3,165.82 L318.3,165.67 L319.3,165.52 L320.3,165.37 L321.3,165.22 L322.3,165.07 L323.3,164.92 L324.3,164.78 L325.3,164.63 L326.3,164.48 L327.3,164.34 L328.3,164.19 L329.3,164.05 L330.3,163.91 L331.3,163.76 L332.3,163.62 L333.3,163.48 L334.3,163.33 L335.3,163.19 L336.3,163.05 L337.3,162.90 L338.3,162.75 L339.3,162.61 L340.3,162.46 L341.3,162.31 L342.3,162.16 L343.3,162.00 L344.3,161.85 L345.3,161.69 L346.3,161.53 L347.3,161.37 L348.3,161.21 L349.3,161.04 L350.3,160.88 L351.3,160.71 L352.3,160.53 L353.3,160.36 L354.3,160.18 L355.3,160.00 L356.3,159.81 L357.3,159.62 L358.3,159.43 L359.3,159.24 L360.3,159.04 L361.3,158.84 L362.3,158.63 L363.3,158.42 L364.3,158.21 L365.3,158.00 L366.3,157.78 L367.3,157.56 L368.3,157.33 L369.3,157.11 L370.3,156.88 L371.3,156.64 L372.3,156.40 L373.3,156.16 L374.3,155.92 L375.3,155.67 L376.3,155.42 L377.3,155.17 L378.3,154.92 L379.3,154.66 L380.3,154.39 L381.3,154.13 L382.3,153.86 L383.3,153.59 L384.3,153.32 L385.3,153.04 L386.3,152.76 L387.3,152.48 L388.3,152.19 L389.3,151.90 L390.3,151.61 L391.3,151.32 L392.3,151.02 L393.3,150.73 L394.3,150.43 L395.3,150.13 L396.3,149.83 L397.3,149.53 L398.3,149.23 L399.3,148.93 L400.3,148.62 L401.3,148.32 L402.3,148.02 L403.3,147.71 L404.3,147.40 L405.3,147.10 L406.3,146.79 L407.3,146.49 L408.3,146.18 L409.3,145.87 L410.3,145.56 L411.3,145.26 L412.3,144.95 L413.3,144.64 L414.3,144.34 L415.3,144.03 L416.3,143.73 L417.3,143.42 L418.3,143.12 L419.3,142.81 L420.3,142.51 L421.3,142.21 L422.3,141.90 L423.3,141.60 L424.3,141.29 L425.3,140.99 L426.3,140.68 L427.3,140.37 L428.3,140.07 L429.3,139.76 L430.3,139.45 L431.3,139.14 L432.3,138.83 L433.3,138.53 L434.3,138.22 L435.3,137.91 L436.3,137.60 L437.3,137.29 L438.3,136.98 L439.3,136.67 L440.3,136.37 L441.3,136.06 L442.3,135.75 L443.3,135.44 L444.3,135.14 L445.3,134.83 L446.3,134.53 L447.3,134.22 L448.3,133.92 L449.3,133.61 L450.3,133.31 L451.3,133.01 L452.3,132.70 L453.3,132.40 L454.3,132.10 L455.3,131.80 L456.3,131.50 L457.3,131.21 L458.3,130.91 L459.3,130.61 L460.3,130.31 L461.3,130.01 L462.3,129.71 L463.3,129.42 L464.3,129.12 L465.3,128.82 L466.3,128.52 L467.3,128.23 L468.3,127.93 L469.3,127.63 L470.3,127.33 L471.3,127.03 L472.3,126.73 L473.3,126.43 L474.3,126.13 L475.3,125.83 L476.3,125.53 L477.3,125.22 L478.3,124.92 L479.3,124.61 L480.3,124.31 L481.3,124.00 L482.3,123.69 L483.3,123.38 L484.3,123.07 L485.3,122.76 L486.3,122.45 L487.3,122.14 L488.3,121.82 L489.3,121.51 L490.3,121.20 L491.3,120.88 L492.3,120.57 L493.3,120.25 L494.3,119.93 L495.3,119.62 L496.3,119.30 L497.3,118.99 L498.3,118.67 L499.3,118.35 L500.3,118.04 L501.3,117.72 L502.3,117.41 L503.3,117.09 L504.3,116.78 L505.3,116.46 L506.3,116.15 L507.3,115.84 L508.3,115.53 L509.3,115.22 L510.3,114.91 L511.3,114.60 L512.3,114.29 L513.3,113.99 L514.3,113.68 L515.3,113.38 L516.3,113.08 L517.3,112.77 L518.3,112.47 L519.3,112.17 L520.3,111.87 L521.3,111.58 L522.3,111.28 L523.3,110.98 L524.3,110.68 L525.3,110.39 L526.3,110.09 L527.3,109.79 L528.3,109.50 L529.3,109.20 L530.3,108.90 L531.3,108.61 L532.3,108.31 L533.3,108.01 L534.3,107.71 L535.3,107.41 L536.3,107.11 L537.3,106.81 L538.3,106.51 L539.3,106.21 L540.3,105.91 L541.3,105.60 L542.3,105.28 L543.3,104.96 L544.3,104.63 L545.3,104.29 L546.3,103.95 L547.3,103.60 L548.3,103.25 L549.3,102.89 L550.3,102.53 L551.3,102.16 L552.3,101.80 L553.3,101.43 L554.3,101.05 L555.3,100.68 L556.3,100.31 L557.3,99.93 L558.3,99.56 L559.3,99.19 L560.3,98.81 L561.3,98.44 L562.3,98.07 L563.3,97.71 L564.3,97.34 L565.3,96.98 L566.3,96.63 L567.3,96.27 L568.3,95.93 L569.3,95.59 L570.3,95.25 L571.3,94.91 L572.3,94.58 L573.3,94.24 L574.3,93.90 L575.3,93.56 L576.3,93.22 L577.3,92.88 L578.3,92.54 L579.3,92.19 L580.3,91.84 L581.3,91.49 L582.3,91.13 L583.3,90.77 L584.3,90.41 L585.3,90.05 L586.3,89.68 L587.3,89.31 L588.3,88.93 L589.3,88.56 L590.3,88.19 L591.3,87.81 L592.3,87.44 L593.3,87.07 L594.3,86.70 L595.3,86.34 L596.3,85.98 L597.3,85.62 L598.3,85.28 L599.3,84.93 L600.3,84.60 L601.3,84.27 L602.3,83.96 L603.3,83.65 L604.3,83.34 L605.3,83.05 L606.3,82.75 L607.3,82.47 L608.3,82.19 L609.3,81.92 L610.3,81.66 L611.3,81.39 L612.3,81.14 L613.3,80.89 L614.3,80.64 L615.3,80.40 L616.3,80.16 L617.3,79.93 L618.3,79.70 L619.3,79.47 L620.3,79.24 L621.3,79.02 L622.3,78.80 L623.3,78.58 L624.3,78.37 L625.3,78.15 L626.3,77.94 L627.3,77.72 L628.3,77.51 L629.3,77.30 L630.3,77.09 L631.3,76.89 L632.3,76.70 L633.3,76.52 L634.3,76.35 L635.3,76.19 L636.3,76.03 L637.3,75.87 L638.3,75.70 L639.3,75.53 L640.3,75.34 L641.3,75.17 L642.3,74.99 L643.3,74.82 L644.3,74.66 L645.3,74.49 L646.3,74.33 L647.3,74.17 L648.3,74.02 L649.3,73.86 L650.3,73.71 L651.3,73.55 L652.3,73.39 L653.3,73.24 L654.3,73.08 L655.3,72.92 L656.3,72.77 L657.3,72.61 L658.3,72.46 L659.3,72.31 L660.3,72.15 L661.3,72.00 L662.3,71.85 L663.3,71.70 L664.3,71.55 L665.3,71.40 L666.3,71.25 L667.3,71.10 L668.3,70.99"/>
<path stroke="#000000" d="M86.3,418.00 L87.3,416.38 L88.3,414.76 L89.3,413.14 L90.3,411.53 L91.3,409.93 L92.3,408.33 L93.3,406.73 L94.3,405.14 L95.3,403.56 L96.3,401.97 L97.3,400.40 L98.3,398.82 L99.3,397.25 L100.3,395.69 L101.3,394.14 L102.3,392.60 L103.3,391.09 L104.3,389.60 L105.3,388.11 L106.3,386.64 L107.3,385.17 L108.3,383.71 L109.3,382.23 L110.3,380.76 L111.3,379.27 L112.3,377.77 L113.3,376.27 L114.3,374.77 L115.3,373.27 L116.3,371.77 L117.3,370.28 L118.3,368.79 L119.3,367.30 L120.3,365.81 L121.3,364.32 L122.3,362.83 L123.3,361.35 L124.3,359.87 L125.3,358.39 L126.3,356.91 L127.3,355.44 L128.3,353.96 L129.3,352.49 L130.3,351.02 L131.3,349.56 L132.3,348.09 L133.3,346.64 L134.3,345.18 L135.3,343.74 L136.3,342.29 L137.3,340.86 L138.3,339.42 L139.3,338.00 L140.3,336.58 L141.3,335.16 L142.3,333.75 L143.3,332.35 L144.3,330.95 L145.3,329.56 L146.3,328.16 L147.3,326.77 L148.3,325.38 L149.3,324.00 L150.3,322.61 L151.3,321.23 L152.3,319.85 L153.3,318.47 L154.3,317.09 L155.3,315.72 L156.3,314.36 L157.3,312.99 L158.3,311.64 L159.3,310.28 L160.3,308.93 L161.3,307.59 L162.3,306.25 L163.3,304.91 L164.3,303.58 L165.3,302.25 L166.3,300.92 L167.3,299.60 L168.3,298.28 L169.3,296.96 L170.3,295.65 L171.3,294.34 L172.3,293.04 L173.3,291.74 L174.3,290.44 L175.3,289.14 L176.3,287.85 L177.3,286.56 L178.3,285.28 L179.3,284.00 L180.3,282.72 L181.3,281.45 L182.3,280.18 L183.3,278.91 L184.3,277.65 L185.3,276.39 L186.3,275.14 L187.3,273.89 L188.3,272.64 L189.3,271.39 L190.3,270.15 L191.3,268.91 L192.3,267.67 L193.3,266.43 L194.3,265.19 L195.3,263.96 L196.3,262.72 L197.3,261.49 L198.3,260.25 L199.3,259.01 L200.3,257.76 L201.3,256.50 L202.3,255.23 L203.3,253.94 L204.3,252.64 L205.3,251.33 L206.3,250.00 L207.3,248.66 L208.3,247.32 L209.3,245.97 L210.3,244.62 L211.3,243.27 L212.3,241.91 L213.3,240.56 L214.3,239.21 L215.3,237.86 L216.3,236.50 L217.3,235.14 L218.3,233.78 L219.3,232.41 L220.3,231.03 L221.3,229.65 L222.3,228.27 L223.3,226.89 L224.3,225.50 L225.3,224.11 L226.3,222.72 L227.3,221.33 L228.3,219.93 L229.3,218.55 L230.3,217.17 L231.3,215.81 L232.3,214.47 L233.3,213.14 L234.3,211.83 L235.3,210.54 L236.3,209.26 L237.3,207.99 L238.3,206.73 L239.3,205.48 L240.3,204.23 L241.3,202.99 L242.3,201.73 L243.3,200.48 L244.3,199.22 L245.3,197.98 L246.3,196.76 L247.3,195.57 L248.3,194.41 L249.3,193.29 L250.3,192.19 L251.3,191.13 L252.3,190.10 L253.3,189.09 L254.3,188.12 L255.3,187.17 L256.3,186.27 L257.3,185.40 L258.3,184.59 L259.3,183.83 L260.3,183.12 L261.3,182.43 L262.3,181.77 L263.3,181.14 L264.3,180.56 L265.3,180.01 L266.3,179.49 L267.3,178.98 L268.3,178.49 L269.3,178.00 L270.3,177.50 L271.3,177.02 L272.3,176.56 L273.3,176.12 L274.3,175.71 L275.3,175.31 L276.3,174.93 L277.3,174.57 L278.3,174.23 L279.3,173.91 L280.3,173.61 L281.3,173.32 L282.3,173.05 L283.3,172.79 L284.3,172.54 L285.3,172.31 L286.3,172.09 L287.3,171.89 L288.3,171.70 L289.3,171.53 L290.3,171.36 L291.3,171.21 L292.3,171.07 L293.3,170.93 L294.3,170.79 L295.3,170.66 L296.3,170.53 L297.3,170.39 L298.3,170.26 L299.3,170.12 L300.3,169.99 L301.3,169.86 L302.3,169.73 L303.3,169.59 L304.3,169.46 L305.3,169.33 L306.3,169.20 L307.3,169.07 L308.3,168.94 L309.3,168.81 L310.3,168.68 L311.3,168.55 L312.3,168.42 L313.3,168.29 L314.3,168.17 L315.3,168.04 L316.3,167.91 L317.3,167.78 L318.3,167.66 L319.3,167.53 L320.3,167.40 L321.3,167.28 L322.3,167.15 L323.3,167.03 L324.3,166.90 L325.3,166.78 L326.3,166.65 L327.3,166.53 L328.3,166.41 L329.3,166.29 L330.3,166.16 L331.3,166.04 L332.3,165.92 L333.3,165.80 L334.3,165.68 L335.3,165.56 L336.3,165.44 L337.3,165.32 L338.3,165.20 L339.3,165.08 L340.3,164.96 L341.3,164.84 L342.3,164.71 L343.3,164.59 L344.3,164.47 L345.3,164.34 L346.3,164.22 L347.3,164.09 L348.3,163.96 L349.3,163.83 L350.3,163.70 L351.3,163.56 L352.3,163.43 L353.3,163.29 L354.3,163.15 L355.3,163.01 L356.3,162.86 L357.3,162.71 L358.3,162.56 L359.3,162.41 L360.3,162.25 L361.3,162.09 L362.3,161.93 L363.3,161.76 L364.3,161.59 L365.3,161.42 L366.3,161.25 L367.3,161.07 L368.3,160.89 L369.3,160.70 L370.3,160.52 L371.3,160.33 L372.3,160.14 L373.3,159.95 L374.3,159.75 L375.3,159.56 L376.3,159.36 L377.3,159.16 L378.3,158.96 L379.3,158.75 L380.3,158.55 L381.3,158.34 L382.3,158.13 L383.3,157.92 L384.3,157.71 L385.3,157.50 L386.3,157.29 L387.3,157.08 L388.3,156.86 L389.3,156.65 L390.3,156.44 L391.3,156.22 L392.3,156.00 L393.3,155.77 L394.3,155.55 L395.3,155.32 L396.3,155.08 L397.3,154.85 L398.3,154.61 L399.3,154.37 L400.3,154.12 L401.3,153.88 L402.3,153.63 L403.3,153.38 L404.3,153.12 L405.3,152.87 L406.3,152.61 L407.3,152.35 L408.3,152.09 L409.3,151.82 L410.3,151.56 L411.3,151.29 L412.3,151.02 L413.3,150.75 L414.3,150.48 L415.3,150.20 L416.3,149.93 L417.3,149.65 L418.3,149.37 L419.3,149.10 L420.3,148.82 L421.3,148.54 L422.3,148.25 L423.3,147.97 L424.3,147.69 L425.3,147.40 L426.3,147.12 L427.3,146.83 L428.3,146.55 L429.3,146.26 L430.3,145.97 L431.3,145.68 L432.3,145.39 L433.3,145.10 L434.3,144.81 L435.3,144.52 L436.3,144.22 L437.3,143.93 L438.3,143.63 L439.3,143.34 L440.3,143.04 L441.3,142.74 L442.3,142.44 L443.3,142.14 L444.3,141.84 L445.3,141.54 L446.3,141.23 L447.3,140.93 L448.3,140.62 L449.3,140.32 L450.3,140.01 L451.3,139.70 L452.3,139.39 L453.3,139.09 L454.3,138.78 L455.3,138.47 L456.3,138.17 L457.3,137.86 L458.3,137.55 L459.3,137.25 L460.3,136.94 L461.3,136.64 L462.3,136.33 L463.3,136.03 L464.3,135.72 L465.3,135.41 L466.3,135.11 L467.3,134.80 L468.3,134.50 L469.3,134.19 L470.3,133.89 L471.3,133.58 L472.3,133.27 L473.3,132.97 L474.3,132.66 L475.3,132.35 L476.3,132.04 L477.3,131.73 L478.3,131.43 L479.3,131.12 L480.3,130.81 L481.3,130.50 L482.3,130.19 L483.3,129.87 L484.3,129.56 L485.3,129.25 L486.3,128.94 L487.3,128.62 L488.3,128.31 L489.3,128.00 L490.3,127.68 L491.3,127.37 L492.3,127.05 L493.3,126.74 L494.3,126.42 L495.3,126.11 L496.3,125.79 L497.3,125.48 L498.3,125.16 L499.3,124.85 L500.3,124.53 L501.3,124.22 L502.3,123.90 L503.3,123.59 L504.3,123.28 L505.3,122.96 L506.3,122.65 L507.3,122.34 L508.3,122.03 L509.3,121.72 L510.3,121.41 L511.3,121.10 L512.3,120.79 L513.3,120.48 L514.3,120.17 L515.3,119.87 L516.3,119.56 L517.3,119.25 L518.3,118.95 L519.3,118.64 L520.3,118.33 L521.3,118.03 L522.3,117.72 L523.3,117.42 L524.3,117.11 L525.3,116.81 L526.3,116.50 L527.3,116.20 L528.3,115.89 L529.3,115.59 L530.3,115.28 L531.3,114.97 L532.3,114.67 L533.3,114.36 L534.3,114.06 L535.3,113.75 L536.3,113.44 L537.3,113.13 L538.3,112.83 L539.3,112.52 L540.3,112.21 L541.3,111.89 L542.3,111.56 L543.3,111.23 L544.3,110.89 L545.3,110.54 L546.3,110.18 L547.3,109.82 L548.3,109.45 L549.3,109.07 L550.3,108.70 L551.3,108.31 L552.3,107.93 L553.3,107.54 L554.3,107.15 L555.3,106.76 L556.3,106.37 L557.3,105.97 L558.3,105.58 L559.3,105.19 L560.3,104.80 L561.3,104.41 L562.3,104.02 L563.3,103.64 L564.3,103.26 L565.3,102.89 L566.3,102.52 L567.3,102.15 L568.3,101.79 L569.3,101.44 L570.3,101.10 L571.3,100.75 L572.3,100.41 L573.3,100.06 L574.3,99.72 L575.3,99.37 L576.3,99.02 L577.3,98.67 L578.3,98.32 L579.3,97.96 L580.3,97.60 L581.3,97.24 L582.3,96.88 L583.3,96.51 L584.3,96.14 L585.3,95.77 L586.3,95.39 L587.3,95.01 L588.3,94.63 L589.3,94.25 L590.3,93.87 L591.3,93.48 L592.3,93.10 L593.3,92.72 L594.3,92.35 L595.3,91.98 L596.3,91.61 L597.3,91.25 L598.3,90.89 L599.3,90.54 L600.3,90.20 L601.3,89.86 L602.3,89.54 L603.3,89.22 L604.3,88.91 L605.3,88.60 L606.3,88.30 L607.3,88.01 L608.3,87.73 L609.3,87.45 L610.3,87.17 L611.3,86.90 L612.3,86.64 L613.3,86.38 L614.3,86.12 L615.3,85.87 L616.3,85.63 L617.3,85.38 L618.3,85.14 L619.3,84.91 L620.3,84.68 L621.3,84.44 L622.3,84.22 L623.3,83.99 L624.3,83.76 L625.3,83.54 L626.3,83.32 L627.3,83.10 L628.3,82.88 L629.3,82.65 L630.3,82.43 L631.3,82.23 L632.3,82.03 L633.3,81.85 L634.3,81.68 L635.3,81.51 L636.3,81.34 L637.3,81.18 L638.3,81.01 L639.3,80.83 L640.3,80.64 L641.3,80.46 L642.3,80.28 L643.3,80.10 L644.3,79.93 L645.3,79.75 L646.3,79.58 L647.3,79.41 L648.3,79.25 L649.3,79.08 L650.3,78.91 L651.3,78.74 L652.3,78.57 L653.3,78.40 L654.3,78.24 L655.3,78.07 L656.3,77.90 L657.3,77.74 L658.3,77.57 L659.3,77.41 L660.3,77.25 L661.3,77.10 L662.3,76.94 L663.3,76.79 L664.3,76.64 L665.3,76.49 L666.3,76.34 L667.3,76.20 L668.3,76.09"/>
<path stroke="#58de00" d="M86.3,418.00 L87.3,416.40 L88.3,414.80 L89.3,413.21 L90.3,411.62 L91.3,410.04 L92.3,408.47 L93.3,406.89 L94.3,405.33 L95.3,403.77 L96.3,402.21 L97.3,400.66 L98.3,399.11 L99.3,397.56 L100.3,396.02 L101.3,394.50 L102.3,392.99 L103.3,391.51 L104.3,390.04 L105.3,388.58 L106.3,387.14 L107.3,385.69 L108.3,384.25 L109.3,382.81 L110.3,381.36 L111.3,379.90 L112.3,378.43 L113.3,376.95 L114.3,375.48 L115.3,374.01 L116.3,372.55 L117.3,371.09 L118.3,369.63 L119.3,368.18 L120.3,366.72 L121.3,365.27 L122.3,363.82 L123.3,362.38 L124.3,360.93 L125.3,359.49 L126.3,358.05 L127.3,356.61 L128.3,355.18 L129.3,353.74 L130.3,352.31 L131.3,350.88 L132.3,349.45 L133.3,348.03 L134.3,346.61 L135.3,345.20 L136.3,343.79 L137.3,342.38 L138.3,340.98 L139.3,339.58 L140.3,338.19 L141.3,336.79 L142.3,335.41 L143.3,334.03 L144.3,332.65 L145.3,331.27 L146.3,329.90 L147.3,328.52 L148.3,327.15 L149.3,325.77 L150.3,324.40 L151.3,323.03 L152.3,321.66 L153.3,320.29 L154.3,318.92 L155.3,317.56 L156.3,316.20 L157.3,314.85 L158.3,313.50 L159.3,312.15 L160.3,310.81 L161.3,309.47 L162.3,308.14 L163.3,306.81 L164.3,305.48 L165.3,304.16 L166.3,302.84 L167.3,301.52 L168.3,300.21 L169.3,298.90 L170.3,297.60 L171.3,296.30 L172.3,295.00 L173.3,293.70 L174.3,292.41 L175.3,291.12 L176.3,289.84 L177.3,288.56 L178.3,287.28 L179.3,286.01 L180.3,284.74 L181.3,283.48 L182.3,282.21 L183.3,280.95 L184.3,279.70 L185.3,278.45 L186.3,277.20 L187.3,275.95 L188.3,274.71 L189.3,273.47 L190.3,272.24 L191.3,271.00 L192.3,269.77 L193.3,268.54 L194.3,267.31 L195.3,266.09 L196.3,264.86 L197.3,263.63 L198.3,262.40 L199.3,261.16 L200.3,259.92 L201.3,258.67 L202.3,257.40 L203.3,256.12 L204.3,254.82 L205.3,253.51 L206.3,252.19 L207.3,250.85 L208.3,249.51 L209.3,248.16 L210.3,246.81 L211.3,245.46 L212.3,244.10 L213.3,242.75 L214.3,241.40 L215.3,240.04 L216.3,238.68 L217.3,237.32 L218.3,235.96 L219.3,234.58 L220.3,233.20 L221.3,231.82 L222.3,230.43 L223.3,229.04 L224.3,227.65 L225.3,226.26 L226.3,224.86 L227.3,223.46 L228.3,222.07 L229.3,220.68 L230.3,219.30 L231.3,217.93 L232.3,216.58 L233.3,215.25 L234.3,213.93 L235.3,212.64 L236.3,211.36 L237.3,210.09 L238.3,208.83 L239.3,207.57 L240.3,206.32 L241.3,205.07 L242.3,203.82 L243.3,202.56 L244.3,201.30 L245.3,200.06 L246.3,198.83 L247.3,197.64 L248.3,196.48 L249.3,195.35 L250.3,194.25 L251.3,193.18 L252.3,192.14 L253.3,191.13 L254.3,190.15 L255.3,189.20 L256.3,188.29 L257.3,187.42 L258.3,186.60 L259.3,185.83 L260.3,185.11 L261.3,184.42 L262.3,183.74 L263.3,183.07 L264.3,182.40 L265.3,181.75 L266.3,181.11 L267.3,180.49 L268.3,179.90 L269.3,179.33 L270.3,178.79 L271.3,178.28 L272.3,177.79 L273.3,177.33 L274.3,176.89 L275.3,176.47 L276.3,176.08 L277.3,175.70 L278.3,175.35 L279.3,175.02 L280.3,174.71 L281.3,174.41 L282.3,174.14 L283.3,173.87 L284.3,173.61 L285.3,173.37 L286.3,173.15 L287.3,172.94 L288.3,172.75 L289.3,172.57 L290.3,172.40 L291.3,172.24 L292.3,172.09 L293.3,171.94 L294.3,171.80 L295.3,171.66 L296.3,171.51 L297.3,171.37 L298.3,171.22 L299.3,171.08 L300.3,170.93 L301.3,170.79 L302.3,170.64 L303.3,170.49 L304.3,170.35 L305.3,170.20 L306.3,170.05 L307.3,169.90 L308.3,169.76 L309.3,169.61 L310.3,169.47 L311.3,169.32 L312.3,169.18 L313.3,169.03 L314.3,168.89 L315.3,168.74 L316.3,168.60 L317.3,168.46 L318.3,168.32 L319.3,168.18 L320.3,168.05 L321.3,167.91 L322.3,167.78 L323.3,167.64 L324.3,167.51 L325.3,167.38 L326.3,167.26 L327.3,167.13 L328.3,167.01 L329.3,166.88 L330.3,166.76 L331.3,166.65 L332.3,166.53 L333.3,166.42 L334.3,166.31 L335.3,166.19 L336.3,166.08 L337.3,165.98 L338.3,165.87 L339.3,165.76 L340.3,165.65 L341.3,165.55 L342.3,165.44 L343.3,165.33 L344.3,165.22 L345.3,165.11 L346.3,165.00 L347.3,164.89 L348.3,164.78 L349.3,164.67 L350.3,164.55 L351.3,164.44 L352.3,164.32 L353.3,164.19 L354.3,164.07 L355.3,163.94 L356.3,163.81 L357.3,163.68 L358.3,163.54 L359.3,163.40 L360.3,163.26 L361.3,163.11 L362.3,162.96 L363.3,162.80 L364.3,162.64 L365.3,162.48 L366.3,162.31 L367.3,162.14 L368.3,161.97 L369.3,161.80 L370.3,161.62 L371.3,161.44 L372.3,161.26 L373.3,161.08 L374.3,160.89 L375.3,160.70 L376.3,160.51 L377.3,160.32 L378.3,160.13 L379.3,159.93 L380.3,159.74 L381.3,159.54 L382.3,159.34 L383.3,159.14 L384.3,158.94 L385.3,158.74 L386.3,158.54 L387.3,158.34 L388.3,158.14 L389.3,157.94 L390.3,157.74 L391.3,157.54 L392.3,157.34 L393.3,157.14 L394.3,156.94 L395.3,156.74 L396.3,156.54 L397.3,156.34 L398.3,156.14 L399.3,155.94 L400.3,155.74 L401.3,155.54 L402.3,155.34 L403.3,155.14 L404.3,154.94 L405.3,154.74 L406.3,154.54 L407.3,154.34 L408.3,154.14 L409.3,153.94 L410.3,153.73 L411.3,153.53 L412.3,153.33 L413.3,153.13 L414.3,152.92 L415.3,152.72 L416.3,152.51 L417.3,152.31 L418.3,152.10 L419.3,151.90 L420.3,151.69 L421.3,151.48 L422.3,151.27 L423.3,151.06 L424.3,150.85 L425.3,150.64 L426.3,150.43 L427.3,150.22 L428.3,150.01 L429.3,149.79 L430.3,149.58 L431.3,149.37 L432.3,149.16 L433.3,148.94 L434.3,148.73 L435.3,148.52 L436.3,148.30 L437.3,148.09 L438.3,147.88 L439.3,147.66 L440.3,147.45 L441.3,147.24 L442.3,147.02 L443.3,146.81 L444.3,146.60 L445.3,146.39 L446.3,146.18 L447.3,145.97 L448.3,145.76 L449.3,145.55 L450.3,145.34 L451.3,145.13 L452.3,144.92 L453.3,144.71 L454.3,144.51 L455.3,144.30 L456.3,144.09 L457.3,143.89 L458.3,143.68 L459.3,143.48 L460.3,143.27 L461.3,143.07 L462.3,142.86 L463.3,142.66 L464.3,142.45 L465.3,142.25 L466.3,142.04 L467.3,141.84 L468.3,141.63 L469.3,141.43 L470.3,141.22 L471.3,141.01 L472.3,140.81 L473.3,140.60 L474.3,140.39 L475.3,140.18 L476.3,139.98 L477.3,139.77 L478.3,139.56 L479.3,139.35 L480.3,139.14 L481.3,138.92 L482.3,138.71 L483.3,138.50 L484.3,138.29 L485.3,138.07 L486.3,137.86 L487.3,137.64 L488.3,137.43 L489.3,137.21 L490.3,136.99 L491.3,136.78 L492.3,136.56 L493.3,136.34 L494.3,136.13 L495.3,135.91 L496.3,135.69 L497.3,135.48 L498.3,135.26 L499.3,135.04 L500.3,134.83 L501.3,134.61 L502.3,134.40 L503.3,134.18 L504.3,133.97 L505.3,133.75 L506.3,133.54 L507.3,133.32 L508.3,133.11 L509.3,132.90 L510.3,132.69 L511.3,132.48 L512.3,132.27 L513.3,132.06 L514.3,131.85 L515.3,131.64 L516.3,131.43 L517.3,131.22 L518.3,131.02 L519.3,130.81 L520.3,130.60 L521.3,130.40 L522.3,130.19 L523.3,129.99 L524.3,129.79 L525.3,129.58 L526.3,129.38 L527.3,129.17 L528.3,128.97 L529.3,128.77 L530.3,128.57 L531.3,128.36 L532.3,128.16 L533.3,127.96 L534.3,127.76 L535.3,127.55 L536.3,127.35 L537.3,127.15 L538.3,126.94 L539.3,126.74 L540.3,126.54 L541.3,126.34 L542.3,126.13 L543.3,125.93 L544.3,125.73 L545.3,125.52 L546.3,125.32 L547.3,125.11 L548.3,124.91 L549.3,124.70 L550.3,124.50 L551.3,124.29 L552.3,124.09 L553.3,123.88 L554.3,123.67 L555.3,123.46 L556.3,123.26 L557.3,123.05 L558.3,122.84 L559.3,122.63 L560.3,122.42 L561.3,122.21 L562.3,122.00 L563.3,121.79 L564.3,121.57 L565.3,121.36 L566.3,121.15 L567.3,120.93 L568.3,120.72 L569.3,120.50 L570.3,120.28 L571.3,120.07 L572.3,119.85 L573.3,119.63 L574.3,119.41 L575.3,119.19 L576.3,118.96 L577.3,118.73 L578.3,118.51 L579.3,118.27 L580.3,118.04 L581.3,117.80 L582.3,117.56 L583.3,117.32 L584.3,117.07 L585.3,116.82 L586.3,116.57 L587.3,116.31 L588.3,116.06 L589.3,115.80 L590.3,115.54 L591.3,115.28 L592.3,115.02 L593.3,114.76 L594.3,114.51 L595.3,114.26 L596.3,114.01 L597.3,113.77 L598.3,113.53 L599.3,113.31 L600.3,113.08 L601.3,112.87 L602.3,112.67 L603.3,112.47 L604.3,112.28 L605.3,112.09 L606.3,111.91 L607.3,111.74 L608.3,111.58 L609.3,111.42 L610.3,111.26 L611.3,111.11 L612.3,110.97 L613.3,110.83 L614.3,110.69 L615.3,110.56 L616.3,110.43 L617.3,110.31 L618.3,110.19 L619.3,110.07 L620.3,109.95 L621.3,109.84 L622.3,109.73 L623.3,109.62 L624.3,109.51 L625.3,109.40 L626.3,109.30 L627.3,109.19 L628.3,109.08 L629.3,108.98 L630.3,108.87 L631.3,108.76 L632.3,108.65 L633.3,108.54 L634.3,108.44 L635.3,108.33 L636.3,108.23 L637.3,108.14 L638.3,108.05 L639.3,107.96 L640.3,107.88 L641.3,107.80 L642.3,107.73 L643.3,107.67 L644.3,107.60 L645.3,107.55 L646.3,107.49 L647.3,107.44 L648.3,107.39 L649.3,107.34 L650.3,107.28 L651.3,107.23 L652.3,107.18 L653.3,107.13 L654.3,107.08 L655.3,107.03 L656.3,106.98 L657.3,106.93 L658.3,106.88 L659.3,106.83 L660.3,106.79 L661.3,106.74 L662.3,106.70 L663.3,106.65 L664.3,106.61 L665.3,106.57 L666.3,106.52 L667.3,106.48 L668.3,106.44"/>
</g>
<g font-family='"Liberation Serif", serif' font-weight="bold" font-size="23.15px" fill="#000">
<text transform="translate(85.90,489.10) scale(1,1.05)" text-anchor="middle" font-size="23.3px">0</text>
<text transform="translate(182.83,489.10) scale(1,1.05)" text-anchor="middle" font-size="23.3px">100</text>
<text transform="translate(279.77,489.10) scale(1,1.05)" text-anchor="middle" font-size="23.3px">200</text>
<text transform="translate(376.70,489.10) scale(1,1.05)" text-anchor="middle" font-size="23.3px">300</text>
<text transform="translate(473.63,489.10) scale(1,1.05)" text-anchor="middle" font-size="23.3px">400</text>
<text transform="translate(570.57,489.10) scale(1,1.05)" text-anchor="middle" font-size="23.3px">500</text>
<text transform="translate(667.50,489.10) scale(1,1.05)" text-anchor="middle" font-size="23.3px">600</text>
<text transform="translate(65.80,461.70) scale(1,1.05)" text-anchor="end" font-size="23.3px">20</text>
<text transform="translate(65.80,372.74) scale(1,1.05)" text-anchor="end" font-size="23.3px">25</text>
<text transform="translate(65.80,283.78) scale(1,1.05)" text-anchor="end" font-size="23.3px">30</text>
<text transform="translate(65.80,194.82) scale(1,1.05)" text-anchor="end" font-size="23.3px">35</text>
<text transform="translate(65.80,105.86) scale(1,1.05)" text-anchor="end" font-size="23.3px">40</text>
<text transform="translate(65.80,16.90) scale(1,1.05)" text-anchor="end" font-size="23.3px">45</text>
<text transform="translate(377.10,520.50) scale(1,1.01)" text-anchor="middle" font-size="23.15px">Time (s)</text>
<text transform="translate(15.2,231) rotate(-90)" text-anchor="middle">Temperature (°C)</text>
<line x1="431.6" x2="468.8" y1="246.2" y2="246.2" stroke="#ff0000" stroke-width="3.4" stroke-linecap="round"/>
<text transform="translate(473.10,254.20) scale(1,1.03)" text-anchor="start" font-size="23.4px">Circular</text>
<line x1="431.6" x2="468.8" y1="278.5" y2="278.5" stroke="#3c6cff" stroke-width="3.4" stroke-linecap="round"/>
<text transform="translate(473.10,286.00) scale(1,1.03)" text-anchor="start" font-size="23.4px">Square</text>
<line x1="431.6" x2="468.8" y1="311.0" y2="311.0" stroke="#f85c10" stroke-width="3.4" stroke-linecap="round"/>
<text transform="translate(473.10,318.80) scale(1,1.03)" text-anchor="start" font-size="23.4px">Cross</text>
<line x1="431.6" x2="468.8" y1="343.6" y2="343.6" stroke="#ffbe00" stroke-width="3.4" stroke-linecap="round"/>
<text transform="translate(473.10,351.10) scale(1,1.03)" text-anchor="start" font-size="23.4px">Triangular</text>
<line x1="431.6" x2="468.8" y1="376.0" y2="376.0" stroke="#000000" stroke-width="3.4" stroke-linecap="round"/>
<text transform="translate(473.10,383.40) scale(1,1.03)" text-anchor="start" font-size="23.4px">I-shaped</text>
<line x1="431.6" x2="468.8" y1="408.4" y2="408.4" stroke="#58de00" stroke-width="3.4" stroke-linecap="round"/>
<text transform="translate(473.10,415.40) scale(1,1.03)" text-anchor="start" font-size="23.4px">V- shaped</text>
</g>
</svg>
</body></html>
